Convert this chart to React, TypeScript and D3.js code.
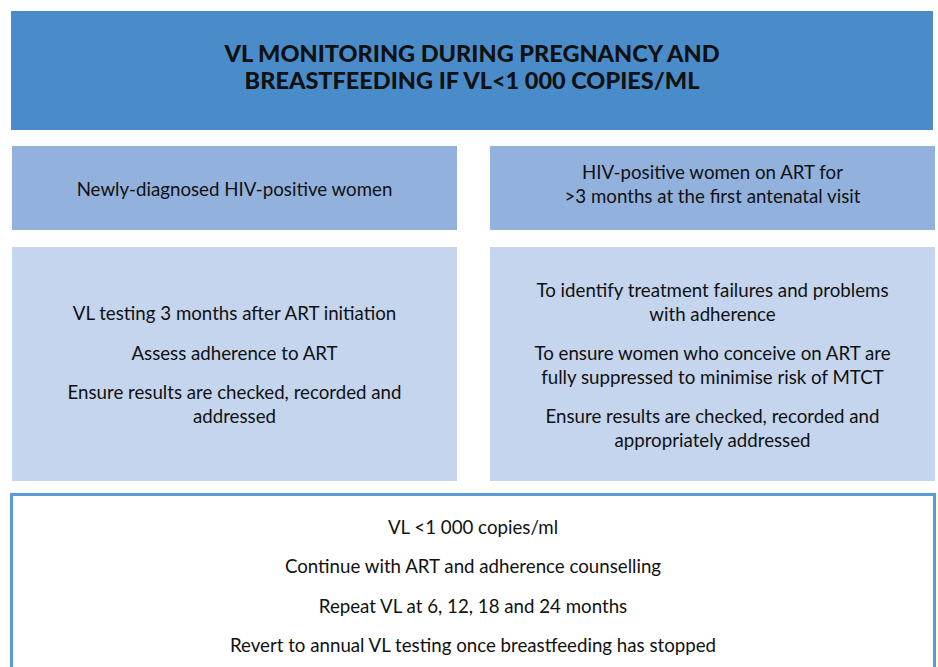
import React from "react";
import * as d3 from "d3";

const W = 938;
const H = 667;

const titleLines = [
  "VL MONITORING DURING PREGNANCY AND",
  "BREASTFEEDING IF VL<1 000 COPIES/ML",
];
const leftHeader = ["Newly-diagnosed HIV-positive women"];
const rightHeader = ["HIV-positive women on ART for", ">3 months at the first antenatal visit"];
const leftBody = [
  ["VL testing 3 months after ART initiation"],
  ["Assess adherence to ART"],
  ["Ensure results are checked, recorded and", "addressed"],
];
const rightBody = [
  ["To identify treatment failures and problems", "with adherence"],
  ["To ensure women who conceive on ART are", "fully suppressed to minimise risk of MTCT"],
  ["Ensure results are checked, recorded and", "appropriately addressed"],
];
const bottomBody = [
  ["VL <1 000 copies/ml"],
  ["Continue with ART and adherence counselling"],
  ["Repeat VL at 6, 12, 18 and 24 months"],
  ["Revert to annual VL testing once breastfeeding has stopped"],
];

const FONT = "Lato, 'Noto Sans', sans-serif";
const LINE = 23.5;
const GAP = 16;
const SIZE = 18.7;

function layoutParas(paras: string[][], cy: number, lineH: number, gap: number) {
  const n = d3.sum(paras, (p) => p.length);
  const total = (n - 1) * lineH + (paras.length - 1) * gap;
  let y = cy - total / 2;
  const out: { t: string; y: number }[] = [];
  paras.forEach((p, i) => {
    p.forEach((t, j) => {
      out.push({ t, y });
      if (j < p.length - 1) y += lineH;
    });
    if (i < paras.length - 1) y += lineH + gap;
  });
  return out;
}

function Block({ paras, cx, cy, lineH = LINE, gap = GAP, size = SIZE, weight = 400 }: any) {
  const lines = layoutParas(paras, cy, lineH, gap);
  return (
    <g>
      {lines.map((l, i) => (
        <text
          key={i}
          x={cx}
          y={l.y}
          textAnchor="middle"
          dominantBaseline="central"
          fontFamily={FONT}
          fontSize={size}
          fontWeight={weight}
          fill="#111"
        >
          {l.t}
        </text>
      ))}
    </g>
  );
}

export default function App() {
  const x = d3.scaleLinear().domain([0, W]).range([0, W]);
  const L = { x0: x(12), x1: x(457) };
  const R = { x0: x(490), x1: x(935) };
  return (
    <svg width={W} height={H} style={{ position: "absolute", left: 0, top: 0, background: "#fff" }}>
      <rect x={11} y={11} width={922} height={119} fill="#4a8cc9" />
      <Block paras={[titleLines]} cx={472} cy={66.5} lineH={27} size={23.5} weight={900} />

      <rect x={L.x0} y={146} width={L.x1 - L.x0} height={84} fill="#92b1dd" />
      <rect x={R.x0} y={146} width={R.x1 - R.x0} height={84} fill="#92b1dd" />
      <Block paras={[leftHeader]} cx={(L.x0 + L.x1) / 2} cy={189} />
      <Block paras={[rightHeader]} cx={(R.x0 + R.x1) / 2} cy={184} />

      <rect x={L.x0} y={247} width={L.x1 - L.x0} height={234} fill="#c4d5ed" />
      <rect x={R.x0} y={247} width={R.x1 - R.x0} height={234} fill="#c4d5ed" />
      <Block paras={leftBody} cx={(L.x0 + L.x1) / 2} cy={364.5} />
      <Block paras={rightBody} cx={(R.x0 + R.x1) / 2} cy={365} />

      <rect x={11.5} y={494.5} width={923} height={200} fill="#fff" stroke="#5b9bd5" strokeWidth={3} />
      <Block paras={bottomBody} cx={473} cy={586} lineH={LINE} gap={39.3 - LINE} />
    </svg>
  );
}
